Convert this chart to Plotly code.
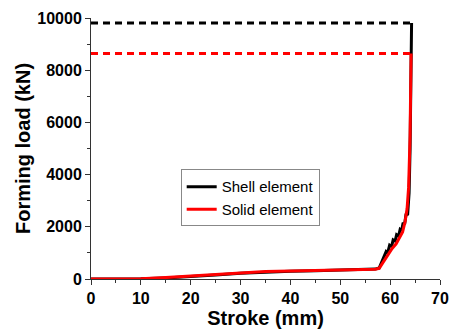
import plotly.graph_objects as go

# Shell element (black)
shell_stroke = [0, 5, 10, 15, 20, 25, 30, 35, 40, 45, 50, 55, 57, 57.8, 58.3, 58.8, 59.2, 59.5, 59.9, 60.3, 60.6, 61.0, 61.3, 61.7, 62.0, 62.3, 62.6, 62.9, 63.2, 63.5, 63.8, 64.0, 64.2, 64.3]
shell_load = [0, 0, 5, 40, 90, 150, 220, 270, 300, 320, 340, 360, 380, 420, 650, 850, 1050, 1000, 1300, 1250, 1500, 1450, 1700, 1650, 1900, 1850, 2150, 2100, 2500, 2450, 3300, 5000, 8000, 9810]
shell_max = 9810

# Solid element (red)
solid_stroke = [0, 5, 10, 15, 20, 25, 30, 35, 40, 45, 50, 55, 57, 57.8, 58.4, 59.0, 59.6, 60.4, 61.2, 62.0, 62.5, 63.0, 63.4, 63.7, 64.0, 64.2]
solid_load = [0, 0, 10, 55, 110, 170, 235, 285, 310, 330, 345, 360, 375, 410, 580, 780, 950, 1170, 1350, 1600, 1800, 2200, 2700, 3500, 5500, 8640]
solid_max = 8640

x_ticks = [0, 10, 20, 30, 40, 50, 60, 70]
y_ticks = [0, 2000, 4000, 6000, 8000, 10000]
y_labels = ["0", "2000", "4000", "6000", "8000", "10000"]

fig = go.Figure()
fig.add_trace(go.Scatter(x=[0, shell_stroke[-1]], y=[shell_max, shell_max], mode="lines",
                         line=dict(color="black", width=3, dash="7px,5px"), showlegend=False))
fig.add_trace(go.Scatter(x=shell_stroke, y=shell_load, mode="lines", name="Shell element",
                         line=dict(color="black", width=3)))
fig.add_trace(go.Scatter(x=[0, solid_stroke[-1]], y=[solid_max, solid_max], mode="lines",
                         line=dict(color="red", width=3, dash="7px,5px"), showlegend=False))
fig.add_trace(go.Scatter(x=solid_stroke, y=solid_load, mode="lines", name="Solid element",
                         line=dict(color="red", width=3)))

font = "Arial, Liberation Sans, sans-serif"
fig.update_layout(
    width=459, height=333,
    margin=dict(l=91, r=10, t=15, b=54),
    plot_bgcolor="white", paper_bgcolor="white",
    font=dict(family=font, color="black"),
    legend=dict(x=0.257, y=0.42, xanchor="left", yanchor="top",
                bordercolor="#888888", borderwidth=1, bgcolor="white",
                font=dict(size=15, family=font), tracegroupgap=0,
                itemwidth=30),
    xaxis=dict(range=[0, 70], tickvals=x_ticks, showgrid=False, zeroline=False,
               showline=True, linecolor="#333333", linewidth=1,
               ticks="outside", ticklen=5, tickcolor="#333333",
               minor=dict(dtick=5, ticks="outside", ticklen=3, tickcolor="#333333"),
               tickfont=dict(size=16, family=font, weight="bold"),
               title=dict(text="<b>Stroke (mm)</b>", font=dict(size=20, family=font), standoff=2)),
    yaxis=dict(range=[0, 10000], tickvals=y_ticks, ticktext=y_labels, showgrid=False, zeroline=False,
               showline=True, linecolor="#333333", linewidth=1,
               ticks="outside", ticklen=5, tickcolor="#333333",
               minor=dict(dtick=1000, ticks="outside", ticklen=3, tickcolor="#333333"),
               tickfont=dict(size=16, family=font, weight="bold"),
               title=dict(text="<b>Forming load (kN)</b>", font=dict(size=20, family=font), standoff=1)),
)
fig.write_html("out.html")
